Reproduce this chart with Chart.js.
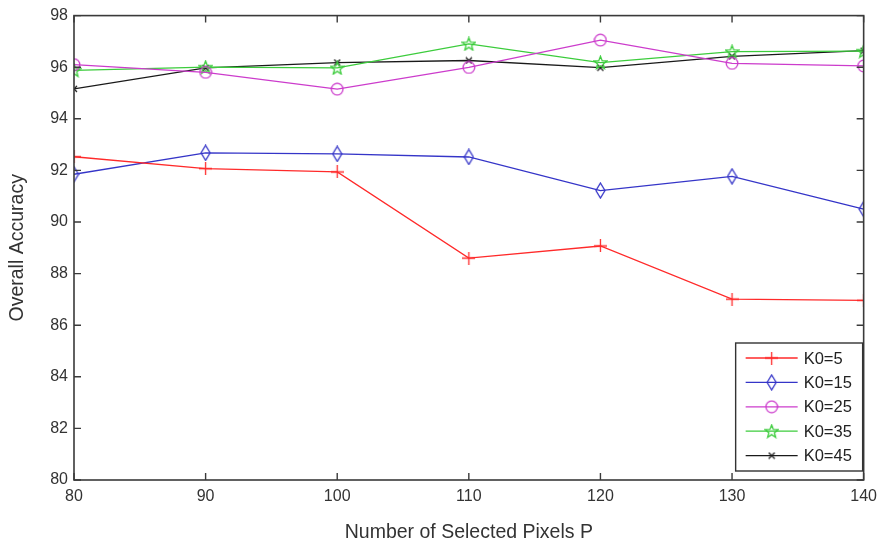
<!DOCTYPE html>
<html>
<head>
<meta charset="utf-8">
<script src="https://cdn.jsdelivr.net/npm/chart.js@4/dist/chart.umd.min.js"></script>
<style>
  html, body { margin: 0; padding: 0; background: #fff; }
  #wrap { width: 884px; height: 545px; }
</style>
</head>
<body>
<div id="wrap"><canvas id="chart" width="884" height="545"></canvas></div>
<script>
// number of selected pixels P
const pixels = [80, 90, 100, 110, 120, 130, 140];
const k5  = [92.53, 92.07, 91.94, 88.60, 89.07, 87.01, 86.96];
const k15 = [91.85, 92.68, 92.64, 92.52, 91.22, 91.77, 90.50];
const k25 = [96.10, 95.80, 95.15, 95.99, 97.05, 96.15, 96.05];
const k35 = [95.88, 96.00, 95.97, 96.90, 96.18, 96.60, 96.62];
const k45 = [95.16, 95.97, 96.18, 96.26, 95.98, 96.42, 96.64];
const seriesNames = ['K0=5', 'K0=15', 'K0=25', 'K0=35', 'K0=45'];
const yTicks = [80, 82, 84, 86, 88, 90, 92, 94, 96, 98];
const xTicks = [80, 90, 100, 110, 120, 130, 140];

const FONT = 'Liberation Sans, Arial, sans-serif';

// small canvases used as marker images (matlab-ish symbols)
function marker(w, h, color, draw) {
  const c = document.createElement('canvas');
  c.width = w; c.height = h;
  const g = c.getContext('2d');
  g.strokeStyle = color;
  g.lineWidth = 1.3;
  draw(g, w, h);
  return c;
}
const plusM = marker(13, 13, '#ff2a2a', (g, w, h) => {
  g.beginPath();
  g.moveTo(0, h / 2); g.lineTo(w, h / 2);
  g.moveTo(w / 2, 0); g.lineTo(w / 2, h);
  g.stroke();
});
const diamondM = marker(11, 17, '#3535c8', (g, w, h) => {
  g.beginPath();
  g.moveTo(w / 2, 1); g.lineTo(w - 1, h / 2); g.lineTo(w / 2, h - 1); g.lineTo(1, h / 2);
  g.closePath(); g.stroke();
});
const circleM = marker(14, 14, '#cc3ccc', (g, w, h) => {
  g.beginPath(); g.arc(w / 2, h / 2, 5.8, 0, Math.PI * 2); g.stroke();
});
const starM = marker(15, 15, '#3ccc3c', (g, w, h) => {
  g.beginPath();
  for (let i = 0; i < 10; i++) {
    const r = i % 2 === 0 ? 6.8 : 2.9;
    const a = -Math.PI / 2 + i * Math.PI / 5;
    const x = w / 2 + r * Math.cos(a), y = h / 2 + 0.5 + r * Math.sin(a);
    if (i === 0) g.moveTo(x, y); else g.lineTo(x, y);
  }
  g.closePath(); g.stroke();
});
const xM = marker(8, 8, '#1a1a1a', (g, w, h) => {
  g.beginPath();
  g.moveTo(1, 1); g.lineTo(w - 1, h - 1);
  g.moveTo(w - 1, 1); g.lineTo(1, h - 1);
  g.stroke();
});

function pts(vals) {
  return vals.map((v, i) => ({ x: pixels[i], y: v }));
}

const colors = ['#ff2a2a', '#3535c8', '#cc3ccc', '#3ccc3c', '#1a1a1a'];
const markers = [plusM, diamondM, circleM, starM, xM];
const allVals = [k5, k15, k25, k35, k45];

const datasets = allVals.map((vals, i) => ({
  label: seriesNames[i],
  data: pts(vals),
  borderColor: colors[i],
  backgroundColor: colors[i],
  borderWidth: 1.3,
  pointStyle: markers[i],
  pointRadius: 6,
  tension: 0,
  fill: false
}));

// axis box, inward ticks on all sides, and the legend inside the plot
const matlabFrame = {
  id: 'matlabFrame',
  afterDraw(chart) {
    const { ctx, chartArea: a, scales } = chart;
    ctx.save();
    ctx.strokeStyle = '#3a3a3a';
    ctx.lineWidth = 1.6;
    ctx.strokeRect(a.left, a.top, a.right - a.left, a.bottom - a.top);
    ctx.lineWidth = 1.4;
    ctx.beginPath();
    const tl = 7;
    xTicks.forEach(v => {
      const x = scales.x.getPixelForValue(v);
      ctx.moveTo(x, a.bottom); ctx.lineTo(x, a.bottom - tl);
      ctx.moveTo(x, a.top); ctx.lineTo(x, a.top + tl);
    });
    yTicks.forEach(v => {
      const y = scales.y.getPixelForValue(v);
      ctx.moveTo(a.left, y); ctx.lineTo(a.left + tl, y);
      ctx.moveTo(a.right, y); ctx.lineTo(a.right - tl, y);
    });
    ctx.stroke();

    // legend
    const bw = 127, bh = 128;
    const bx = a.right - 1 - bw, by = a.bottom - 9 - bh;
    ctx.fillStyle = '#fff';
    ctx.fillRect(bx, by, bw, bh);
    ctx.strokeStyle = '#333';
    ctx.lineWidth = 1.4;
    ctx.strokeRect(bx, by, bw, bh);
    ctx.font = '16.5px ' + FONT;
    ctx.textBaseline = 'middle';
    ctx.textAlign = 'left';
    seriesNames.forEach((name, i) => {
      const y = by + 15 + i * 24.4;
      ctx.strokeStyle = colors[i];
      ctx.lineWidth = 1.3;
      ctx.beginPath();
      ctx.moveTo(bx + 10, y); ctx.lineTo(bx + 62, y);
      ctx.stroke();
      const m = markers[i];
      ctx.drawImage(m, bx + 36 - m.width / 2, y - m.height / 2);
      ctx.fillStyle = '#222';
      ctx.fillText(name, bx + 68, y + 1);
    });
    ctx.restore();
  }
};

new Chart(document.getElementById('chart'), {
  type: 'line',
  data: { datasets },
  options: {
    responsive: false,
    animation: false,
    layout: { padding: { left: 0, right: 18, top: 14, bottom: 0 } },
    plugins: {
      legend: { display: false },
      tooltip: { enabled: false }
    },
    scales: {
      x: {
        type: 'linear',
        min: 80,
        max: 140,
        afterFit: s => { s.height = 65; },
        afterBuildTicks: s => { s.ticks = xTicks.map(v => ({ value: v })); },
        grid: { display: false, drawTicks: false },
        border: { display: false },
        ticks: { color: '#333', font: { family: FONT, size: 16 }, padding: 7, maxRotation: 0 },
        title: {
          display: true,
          text: 'Number of Selected Pixels P',
          color: '#333',
          font: { family: FONT, size: 19.5 },
          padding: { top: 0, bottom: 1 }
        }
      },
      y: {
        min: 80,
        max: 98,
        afterFit: s => { s.width = 74; },
        afterBuildTicks: s => { s.ticks = yTicks.map(v => ({ value: v })); },
        grid: { display: false, drawTicks: false },
        border: { display: false },
        ticks: { color: '#333', font: { family: FONT, size: 16 }, padding: 6 },
        title: {
          display: true,
          text: 'Overall Accuracy',
          color: '#333',
          font: { family: FONT, size: 19.5 },
          padding: { top: 6, bottom: 0 }
        }
      }
    }
  },
  plugins: [matlabFrame]
});
</script>
</body>
</html>
